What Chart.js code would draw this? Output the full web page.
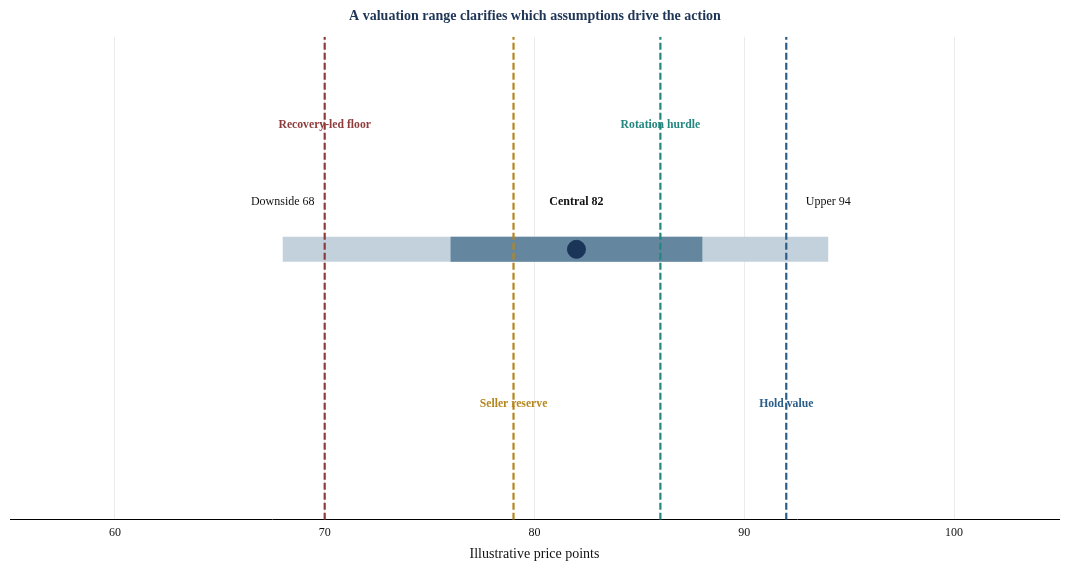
<!DOCTYPE html>
<html>
<head>
<meta charset="utf-8">
<script src="https://cdn.jsdelivr.net/npm/chart.js@4.4.1/dist/chart.umd.min.js"></script>
<style>
  html, body { margin: 0; padding: 0; background: #fff; }
  #wrap { width: 1069px; height: 570px; }
</style>
</head>
<body>
<div id="wrap"><canvas id="chart"></canvas></div>
<script>
// valuation range (price points)
const rangeLabels = ['Downside', 'Central', 'Upper'];
const rangeValues = [68, 82, 94];
const coreRange = [76, 88];

// decision thresholds
const thresholdNames = ['Recovery-led floor', 'Seller reserve', 'Rotation hurdle', 'Hold value'];
const thresholdValues = [70, 79, 86, 92];
const thresholdColors = ['#8e3b3b', '#b5861c', '#23877f', '#2a5d87'];

const xTicks = [60, 70, 80, 90, 100];

const FONT = "'Liberation Serif', 'DejaVu Serif', serif";
const BAR_Y = 0.56;

const datasets = [];

// outer range band
datasets.push({
    type: 'line',
    data: [{ x: rangeValues[0], y: BAR_Y }, { x: rangeValues[2], y: BAR_Y }],
    borderColor: 'rgba(194,209,219,1)',
    borderWidth: 25,
    borderCapStyle: 'butt',
    pointRadius: 0,
    order: 5
});
// core range band
datasets.push({
    type: 'line',
    data: [{ x: coreRange[0], y: BAR_Y }, { x: coreRange[1], y: BAR_Y }],
    borderColor: '#64869e',
    borderWidth: 25,
    borderCapStyle: 'butt',
    pointRadius: 0,
    order: 4
});

// threshold lines
thresholdValues.forEach((v, i) => {
    datasets.push({
        type: 'line',
        data: [{ x: v, y: 0 }, { x: v, y: 1 }],
        borderColor: thresholdColors[i],
        borderWidth: 2.2,
        borderDash: [7, 3],
        borderCapStyle: 'butt',
        pointRadius: 0,
        order: 2
    });
});

// central point
datasets.push({
    type: 'scatter',
    data: [{ x: rangeValues[1], y: BAR_Y }],
    backgroundColor: '#1b3558',
    borderColor: '#1b3558',
    pointRadius: 9,
    order: 1
});

const labelPlugin = {
    id: 'labels',
    afterDatasetsDraw(chart) {
        const ctx = chart.ctx;
        const xs = chart.scales.x, ys = chart.scales.y;
        ctx.save();
        ctx.textAlign = 'center';
        ctx.textBaseline = 'middle';
        rangeValues.forEach((v, i) => {
            ctx.font = (i === 1 ? 'bold ' : '') + '12px ' + FONT;
            ctx.fillStyle = '#111';
            ctx.fillText(rangeLabels[i] + ' ' + v, xs.getPixelForValue(v), ys.getPixelForValue(0.658));
        });
        thresholdValues.forEach((v, i) => {
            ctx.font = 'bold 11.7px ' + FONT;
            ctx.fillStyle = thresholdColors[i];
            const yv = (i % 2 === 0) ? 0.817 : 0.239;
            ctx.fillText(thresholdNames[i], xs.getPixelForValue(v), ys.getPixelForValue(yv));
        });
        ctx.restore();
    }
};

new Chart(document.getElementById('chart'), {
    type: 'scatter',
    data: { datasets: datasets },
    options: {
        animation: false,
        responsive: true,
        maintainAspectRatio: false,
        layout: { padding: { left: 10, right: 9, top: 0, bottom: 4 } },
        plugins: {
            legend: { display: false },
            tooltip: { enabled: false },
            title: {
                display: true,
                text: 'A valuation range clarifies which assumptions drive the action',
                color: '#1f3556',
                font: { family: FONT, size: 14, weight: 'bold' },
                padding: { top: 8, bottom: 12 }
            }
        },
        scales: {
            x: {
                type: 'linear',
                min: 55,
                max: 105,
                afterBuildTicks: axis => { axis.ticks = xTicks.map(v => ({ value: v })); },
                grid: { color: '#ebebeb', drawTicks: false },
                border: { color: '#000', width: 1 },
                ticks: { color: '#111', font: { family: FONT, size: 12 }, padding: 6 },
                title: {
                    display: true,
                    text: 'Illustrative price points',
                    color: '#111',
                    font: { family: FONT, size: 14 },
                    padding: { top: 0, bottom: 3 }
                }
            },
            y: {
                type: 'linear',
                min: 0,
                max: 1,
                display: false
            }
        }
    },
    plugins: [labelPlugin]
});
</script>
</body>
</html>
